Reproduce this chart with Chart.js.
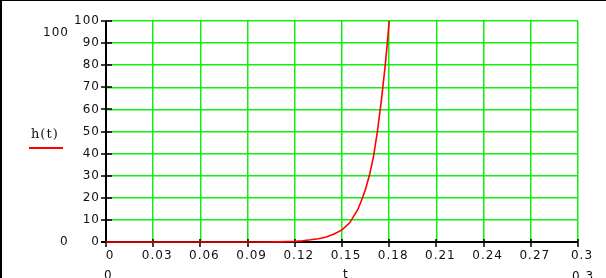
<!DOCTYPE html>
<html>
<head>
<meta charset="utf-8">
<script src="https://cdn.jsdelivr.net/npm/chart.js@4"></script>
<style>
    body { margin: 0; background: #fff; }
    .wrap { position: relative; width: 606px; height: 278px; overflow: hidden; background: #fff; }
    canvas { position: absolute; left: 0; top: 0; }
    .lbl { position: absolute; font: 12px "DejaVu Sans", sans-serif; line-height: 12px; letter-spacing: 1px; color: #111; white-space: nowrap; }
    .serif { font-family: "DejaVu Serif", serif; }
</style>
</head>
<body>
<div class="wrap">
    <canvas id="myChart" width="606" height="278"></canvas>
    <div style="position:absolute;left:0;top:0;width:606px;height:1px;background:#000"></div>
    <div style="position:absolute;left:0;top:0;width:2px;height:278px;background:#000"></div>
    <div class="lbl" style="left:43px;top:26px">100</div>
    <div class="lbl" style="left:60px;top:235px">0</div>
    <div class="lbl serif" style="left:31px;top:127px;font-size:13px;line-height:13px">h(t)</div>
    <div style="position:absolute;left:29px;top:147px;width:34px;height:2px;background:#f00"></div>
    <div class="lbl" style="left:104px;top:269px">0</div>
    <div class="lbl" style="left:343px;top:268px">t</div>
    <div class="lbl" style="left:572px;top:270px">0.3</div>
</div>
<script>
const tValues = [0, 0.01, 0.02, 0.03, 0.04, 0.05, 0.06, 0.07, 0.08, 0.09, 0.1, 0.11, 0.115, 0.12, 0.125, 0.13, 0.135, 0.14, 0.145, 0.15, 0.155, 0.16, 0.1625, 0.165, 0.1675, 0.17, 0.1725, 0.175, 0.1775, 0.1788, 0.18],
    hValues = [0, 0, 0, 0, 0, 0, 0, 0, 0, 0, 0, 0.05, 0.15, 0.3, 0.6, 1.0, 1.5, 2.3, 3.6, 5.5, 8.8, 14.6, 19, 24, 30.4, 38.5, 50, 64, 80, 90, 100],
    xTickValues = [0, 0.03, 0.06, 0.09, 0.12, 0.15, 0.18, 0.21, 0.24, 0.27, 0.3],
    yTickValues = [0, 10, 20, 30, 40, 50, 60, 70, 80, 90, 100];

const gridGreen = '#11ee11',
    font = { family: 'DejaVu Sans', size: 12 };

// wider letter spacing like the original tick labels
const spacingPlugin = {
    id: 'spacing',
    beforeDraw(chart) { chart.ctx.letterSpacing = '1px' }
};

// black axes at x=0 / y=0 with ticks crossing them, drawn under the curve
const axesPlugin = {
    id: 'axes',
    beforeDatasetsDraw(chart) {
        const { ctx, scales: { x, y } } = chart,
            x0 = x.getPixelForValue(0),
            y0 = y.getPixelForValue(0);
        ctx.save();
        ctx.strokeStyle = '#000';
        ctx.lineWidth = 2;
        ctx.beginPath();
        ctx.moveTo(x0, y.getPixelForValue(100));
        ctx.lineTo(x0, y0);
        ctx.moveTo(x0 - 5, y0);
        ctx.lineTo(x.getPixelForValue(0.3), y0);
        ctx.stroke();
        ctx.lineWidth = 1.5;
        ctx.beginPath();
        for (const v of yTickValues) {
            const py = Math.round(y.getPixelForValue(v));
            ctx.moveTo(x0 - 5, py);
            ctx.lineTo(x0 + 6, py);
        }
        for (const v of xTickValues) {
            const px = Math.round(x.getPixelForValue(v));
            ctx.moveTo(px, y0 - 3);
            ctx.lineTo(px, y0 + 5);
        }
        ctx.stroke();
        ctx.restore();
    }
};

new Chart(document.getElementById('myChart'), {
    type: 'line',
    data: {
        datasets: [{
            label: 'h(t)',
            data: tValues.map((t, i) => ({ x: t, y: hValues[i] })),
            borderColor: '#ff0000',
            borderWidth: 1.6,
            pointRadius: 0,
            tension: 0,
            clip: 3
        }]
    },
    options: {
        responsive: false,
        animation: false,
        devicePixelRatio: 1,
        layout: { padding: { left: 0, top: 21, right: 28, bottom: 0 } },
        plugins: { legend: { display: false }, tooltip: { enabled: false } },
        scales: {
            x: {
                type: 'linear',
                min: 0,
                max: 0.3,
                afterBuildTicks: s => { s.ticks = xTickValues.map(v => ({ value: v })) },
                afterFit: s => { s.height = 36 },
                grid: { color: gridGreen, lineWidth: 1.5, drawTicks: false },
                border: { display: false },
                ticks: {
                    font,
                    color: '#111',
                    padding: 7,
                    labelOffset: 4,
                    maxRotation: 0,
                    autoSkip: false,
                    callback: v => String(+v.toFixed(2))
                }
            },
            y: {
                min: 0,
                max: 100,
                afterBuildTicks: s => { s.ticks = yTickValues.map(v => ({ value: v })) },
                afterFit: s => { s.width = 106 },
                grid: { color: gridGreen, lineWidth: 1.5, drawTicks: false },
                border: { display: false },
                ticks: { font, color: '#111', padding: 6, autoSkip: false }
            }
        }
    },
    plugins: [spacingPlugin, axesPlugin]
});
</script>
</body>
</html>
